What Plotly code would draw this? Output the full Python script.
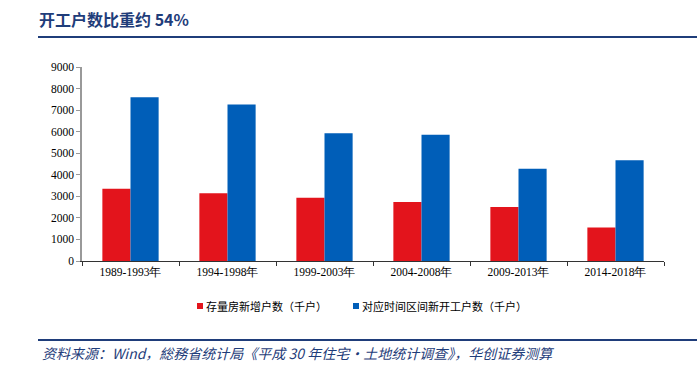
import plotly.graph_objects as go

categories = ["1989-1993年", "1994-1998年", "1999-2003年", "2004-2008年", "2009-2013年", "2014-2018年"]
stock_new = [3350, 3140, 2940, 2740, 2500, 1550]
new_starts = [7600, 7260, 5930, 5860, 4280, 4670]
series_names = ["存量房新增户数（千户）", "对应时间区间新开工户数（千户）"]
y_ticks = [0, 1000, 2000, 3000, 4000, 5000, 6000, 7000, 8000, 9000]

RED = "#E3141C"
BLUE = "#005EB8"
NAVY = "#1F3D7A"
CJK = "Noto Sans CJK SC"
SERIF = "Liberation Serif"

fig = go.Figure()
fig.add_trace(go.Bar(x=categories, y=stock_new, name=series_names[0], marker_color=RED, marker_line_width=0))
fig.add_trace(go.Bar(x=categories, y=new_starts, name=series_names[1], marker_color=BLUE, marker_line_width=0))

W, H = 697, 368
L, R, T, B = 82, 33, 67, 107

def px(x):
    return (x - L) / (W - L - R)

def py(y):
    return (H - B - y) / (H - T - B)

fig.update_layout(
    width=W, height=H,
    margin=dict(l=L, r=R, t=T, b=B),
    paper_bgcolor="white", plot_bgcolor="white",
    barmode="group", bargap=0.42, bargroupgap=0,
    showlegend=False,
    font=dict(family=SERIF, size=11, color="#000"),
)
fig.update_yaxes(
    range=[0, 9000], tickvals=y_ticks, showgrid=False, zeroline=False,
    showline=True, linecolor="#999", linewidth=1.5,
    ticks="outside", ticklen=4, tickcolor="#999",
    tickfont=dict(family=SERIF, size=11.5, color="#000"),
)
fig.update_xaxes(
    showgrid=False, showline=True, linecolor="#333", linewidth=1,
    ticks="outside", ticklen=4, tickcolor="#333", tickson="boundaries",
    tickfont=dict(family=SERIF, size=11.5, color="#000"),
)

# Title text and rules
fig.add_annotation(x=px(37), y=py(19), xref="paper", yref="paper", xanchor="left", yanchor="middle",
                   text="<b>开工户数比重约 54%</b>", showarrow=False,
                   font=dict(family=CJK, size=16, color=NAVY))
fig.add_shape(type="line", xref="paper", yref="paper", x0=px(38), x1=px(697), y0=py(37), y1=py(37),
              line=dict(color=NAVY, width=2))
fig.add_shape(type="line", xref="paper", yref="paper", x0=px(38), x1=px(697), y0=py(340), y1=py(340),
              line=dict(color=NAVY, width=2))
fig.add_annotation(x=px(40), y=py(353), xref="paper", yref="paper", xanchor="left", yanchor="middle",
                   text="<i>资料来源：Wind，総務省统计局《平成 30 年住宅・土地统计调查》，华创证券测算</i>",
                   showarrow=False, font=dict(family=CJK, size=14, color=NAVY))

# Legend
for xs, color, name in [(197, RED, series_names[0]), (353, BLUE, series_names[1])]:
    fig.add_shape(type="rect", xref="paper", yref="paper", x0=px(xs), x1=px(xs + 6),
                  y0=py(309), y1=py(303), fillcolor=color, line_width=0)
    fig.add_annotation(x=px(xs + 7), y=py(306), xref="paper", yref="paper", xanchor="left", yanchor="middle",
                       text=name, showarrow=False, font=dict(family=CJK, size=11, color="#000"))

fig.write_html("out.html", config={"displayModeBar": False},
               post_script="document.body.style.margin='0';document.body.style.padding='0';")
